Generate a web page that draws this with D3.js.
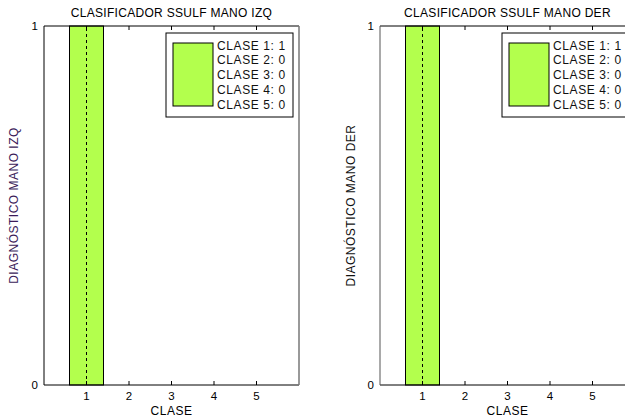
<!DOCTYPE html>
<html><head><meta charset="utf-8">
<script src="https://cdn.jsdelivr.net/npm/d3@7"></script>
<style>body{margin:0;background:#fff}svg{display:block}text{font-family:"Liberation Sans",Arial,sans-serif}</style>
</head><body>
<script>
const categories = [1, 2, 3, 4, 5];
const valuesIzq = [1, 0, 0, 0, 0];
const valuesDer = [1, 0, 0, 0, 0];
const legendLabels = ["CLASE 1: 1", "CLASE 2: 0", "CLASE 3: 0", "CLASE 4: 0", "CLASE 5: 0"];
const yTicks = [0, 1];
const xTicks = [1, 2, 3, 4, 5];

(function () {
const W = 625, H = 419;
const svg = d3.select("body").append("svg").attr("width", W).attr("height", H);

const panels = [
  {left: 44, title: "CLASIFICADOR SSULF MANO IZQ", ylabel: "DIAGNÓSTICO MANO IZQ", ylabColor: "#3b1c5a", values: valuesIzq, axisColor: "#000", labelX: 18},
  {left: 380, title: "CLASIFICADOR SSULF MANO DER", ylabel: "DIAGNÓSTICO MANO DER", ylabColor: "#111", values: valuesDer, axisColor: "#555", labelX: 355}
];
const plotTop = 26, plotBottom = 385, plotW = 255;

panels.forEach(p => {
  const x = d3.scaleLinear().domain([0, 6]).range([p.left, p.left + plotW]);
  const y = d3.scaleLinear().domain([0, 1]).range([plotBottom, plotTop]);
  const g = svg.append("g");

  const bw = 0.8;
  categories.forEach((c, i) => {
    const v = p.values[i];
    if (v > 0) {
      g.append("rect").attr("x", x(c - bw / 2)).attr("y", y(v))
        .attr("width", x(c + bw / 2) - x(c - bw / 2)).attr("height", y(0) - y(v))
        .attr("fill", "#b3ff4d").attr("stroke", "#000").attr("stroke-width", 1);
      g.append("line").attr("x1", x(c)).attr("x2", x(c)).attr("y1", y(0)).attr("y2", y(v))
        .attr("stroke", "#000").attr("stroke-dasharray", "3,3").attr("stroke-width", 1);
    }
  });

  g.append("line").attr("x1", x(0)).attr("x2", x(6)).attr("y1", plotBottom).attr("y2", plotBottom).attr("stroke", "#000");
  g.append("line").attr("x1", x(0)).attr("x2", x(6)).attr("y1", plotTop).attr("y2", plotTop).attr("stroke", "#000");
  g.append("line").attr("x1", x(0)).attr("x2", x(0)).attr("y1", plotTop).attr("y2", plotBottom).attr("stroke", p.axisColor);
  g.append("line").attr("x1", x(6)).attr("x2", x(6)).attr("y1", plotTop).attr("y2", plotBottom).attr("stroke", "#777").attr("stroke-width", 1.5);

  xTicks.forEach(t => {
    g.append("line").attr("x1", x(t)).attr("x2", x(t)).attr("y1", plotBottom).attr("y2", plotBottom - 4).attr("stroke", "#000");
    g.append("line").attr("x1", x(t)).attr("x2", x(t)).attr("y1", plotTop).attr("y2", plotTop + 4).attr("stroke", "#000");
    g.append("text").attr("x", x(t)).attr("y", plotBottom + 15).attr("text-anchor", "middle")
      .attr("font-size", 11.5).text(t);
  });
  yTicks.forEach(t => {
    g.append("text").attr("x", p.left - 6).attr("y", y(t) + 4).attr("text-anchor", "end")
      .attr("font-size", 11.5).text(t);
  });

  g.append("text").attr("x", p.left + plotW / 2).attr("y", 17).attr("text-anchor", "middle")
    .attr("font-size", 12).attr("letter-spacing", 0.3).text(p.title);
  g.append("text").attr("x", x(3)).attr("y", 415).attr("text-anchor", "middle")
    .attr("font-size", 12).attr("letter-spacing", 0.5).text("CLASE");
  g.append("text").attr("transform", `translate(${p.labelX},${(plotTop + plotBottom) / 2}) rotate(-90)`)
    .attr("text-anchor", "middle").attr("font-size", 12).attr("letter-spacing", 0.5)
    .attr("fill", p.ylabColor).text(p.ylabel);

  const lx = p.left + 122, ly = 33;
  g.append("rect").attr("x", lx).attr("y", ly).attr("width", 127).attr("height", 84)
    .attr("fill", "#fff").attr("stroke", "#000");
  g.append("rect").attr("x", lx + 7).attr("y", ly + 10).attr("width", 40).attr("height", 63)
    .attr("fill", "#b3ff4d").attr("stroke", "#000");
  legendLabels.forEach((l, i) => {
    g.append("text").attr("x", lx + 51).attr("y", ly + 16.5 + i * 14.8)
      .attr("font-size", 12).attr("letter-spacing", 0.6).attr("fill", "#111").text(l);
  });
});
})();
</script>
</body></html>
